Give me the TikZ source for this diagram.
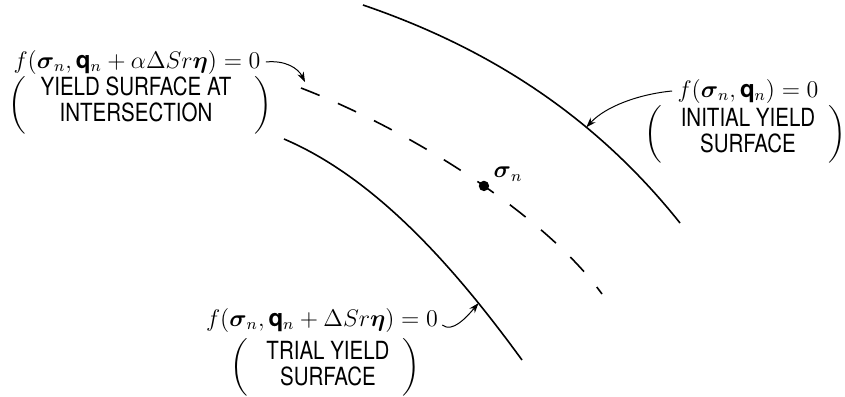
\documentclass[tikz,border=0pt]{standalone}
\usepackage{amsmath}
\usepackage{fontspec}
\setmainfont{TeX Gyre Heros}
\usetikzlibrary{arrows.meta}
\newcommand\capline[1]{\scalebox{0.82}[1]{#1}}
\newcommand\bigparL[1]{$\left(\vrule height #1 depth #1 width 0pt\right.$}
\newcommand\bigparR[1]{$\left.\vrule height #1 depth #1 width 0pt\right)$}
\begin{document}
\begin{tikzpicture}[x=0.5pt,y=-0.5pt,
  curve/.style={line width=0.8pt},
  dashcurve/.style={line width=0.8pt, dash pattern=on 10pt off 10pt},
  pointer/.style={line width=0.5pt, -{Stealth[length=5pt,width=3.5pt]}},
  mathlbl/.style={inner sep=0pt, font=\fontsize{12}{14}\selectfont},
  textlbl/.style={inner sep=0pt, align=center, font=\fontsize{12.5}{13}\selectfont},
  parlbl/.style={inner sep=0pt, font=\fontsize{12}{14}\selectfont}]
\useasboundingbox (0,0) rectangle (845,396);

% curves
\draw[curve] (363,5) .. controls (480,45) and (590,110) .. (680,223)
  coordinate[pos=0.675] (tipB);
\draw[curve] (284,139) .. controls (380,180) and (460,275) .. (522,360)
  coordinate[pos=0.78] (tipC);
\draw[dashcurve] (301,88) .. controls (410,130) and (545,215) .. (602,294)
  node[pos=0.54, circle, fill=black, inner sep=0pt, minimum size=5.2pt] (sig) {};

\coordinate (tipA) at (305,82);

% stress point label
\node[mathlbl] (siglbl) at (508,174) {$\boldsymbol{\sigma}_n$};

% top-left label
\node[mathlbl] (mA) at (137,62) {$f(\boldsymbol{\sigma}_n,\mathbf{q}_n+\alpha\Delta S r\boldsymbol{\eta})=0$};
\node[textlbl] (tA) at (136,99) {\capline{YIELD SURFACE AT}\\\capline{INTERSECTION}};
\node[parlbl] (lpA) at (19,105) {\bigparL{11.5pt}};
\node[parlbl] (rpA) at (262,105) {\bigparR{11.5pt}};

% initial label
\node[mathlbl] (mB) at (748,91) {$f(\boldsymbol{\sigma}_n,\mathbf{q}_n)=0$};
\node[textlbl] (tB) at (748,131) {\capline{INITIAL YIELD}\\\capline{SURFACE}};
\node[parlbl] (lpB) at (655,134) {\bigparL{11.5pt}};
\node[parlbl] (rpB) at (836,134) {\bigparR{11.5pt}};

% trial label
\node[mathlbl] (mC) at (322,320) {$f(\boldsymbol{\sigma}_n,\mathbf{q}_n+\Delta S r\boldsymbol{\eta})=0$};
\node[textlbl] (tC) at (328,364) {\capline{TRIAL YIELD}\\\capline{SURFACE}};
\node[parlbl] (lpC) at (241,367) {\bigparL{11.5pt}};
\node[parlbl] (rpC) at (410,367) {\bigparR{11.5pt}};

% pointers
\draw[pointer] (mA.east) ++(5,0) .. controls (285,60) and (298,68) .. (tipA);
\draw[pointer] (mB.west) ++(-5,0) .. controls (640,94) and (606,106) .. (tipB);
\draw[pointer] (mC.east) ++(4,5) .. controls (452,333) and (466,318) .. (tipC);
\end{tikzpicture}
\end{document}
